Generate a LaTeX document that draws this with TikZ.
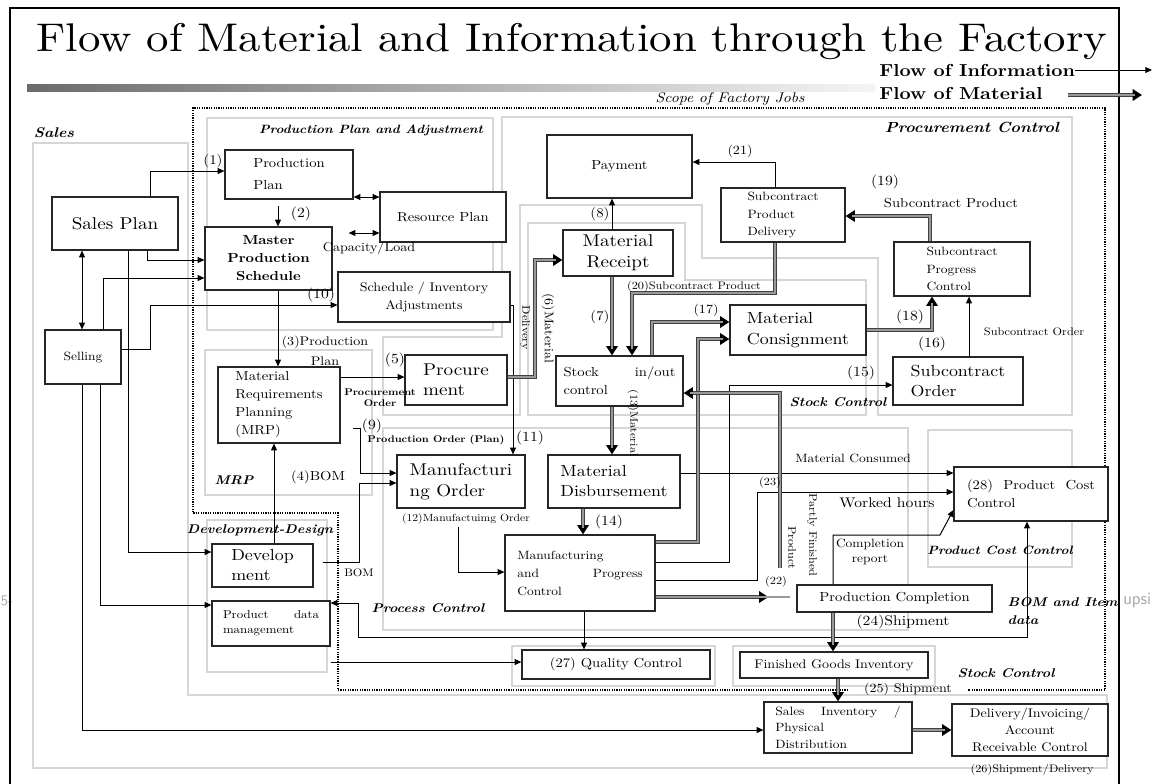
\documentclass[tikz,border=0pt]{standalone}
\usepackage{fontspec}
\setmainfont{lmroman10}[Extension=.otf, UprightFont=*-regular, BoldFont=*-bold,
  ItalicFont=*-italic, BoldItalicFont=*-bolditalic, FakeStretch=1.12]
\usetikzlibrary{arrows.meta}
% box given by its corners (in px units): name, x1, y1, x2, y2, options, text
\newcommand\boxnode[7]{\node[box,#6,minimum width={(#4-#2)*0.75pt},minimum height={(#5-#3)*0.75pt}] (#1) at ({(#2+#4)/2},{(#3+#5)/2}) {#7};}
\tikzset{
  fs/.style 2 args={font=\fontsize{#1}{#2}\selectfont},
  box/.style={draw=black!85, line width=0.9pt, fill=white, inner sep=1pt},
  grp/.style={draw=black!16, line width=0.9pt},
  glab/.style={font=\fontsize{9.5}{11}\selectfont\bfseries\itshape},
  lab/.style={fs={9.4}{11}, inner sep=0.5pt},
  small/.style={fs={8.2}{10}, inner sep=0.5pt},
  info/.style={draw=black, line width=0.75pt, ->},
  both/.style={draw=black, line width=0.75pt, <->},
  mat/.style={draw=black!75, line width=3.2pt, -{Triangle[length=7pt,width=8.5pt,color=black]},
    postaction={draw=black!40, line width=1.2pt, -, shorten >=5pt}},
  scope/.style={draw=black, line width=1.1pt, dash pattern=on 0.9pt off 0.9pt},
}
\begin{document}
\begin{tikzpicture}[x=0.75pt,y=-0.75pt,>={Triangle[length=5pt,width=4.4pt]}]
\useasboundingbox (0,0) rectangle (1157,783);
\clip (0,0) rectangle (1157,783);
\fill[white] (0,0) rectangle (1157,783);

% stray text of the page behind the frame
\node[anchor=west, inner sep=0, text=black!35, font=\sffamily\fontsize{11}{13}\selectfont] (fragl) at (0.5,601) {5-};
\node[anchor=west, inner sep=0, text=black!35, font=\sffamily\fontsize{13}{15}\selectfont] (fragr) at (1123,601) {upsi};

% frame, title and header bar
\draw[line width=2pt] (10,790) -- (10,8) -- (1119,8) -- (1119,790);
\node[anchor=base, font=\fontsize{30}{36}\selectfont, inner sep=0] (title) at (572,51) {Flow of Material and Information through the Factory};
\shade[left color=black!58, right color=black!4] (27,84) rectangle (875,91);

% legend
\node[font=\fontsize{13}{15}\selectfont\bfseries, anchor=west, inner sep=0] (legi) at (879,70) {Flow of Information};
\coordinate (legiend) at (1152,70);
\draw[info] (legi.east) -- (legiend);
\node[font=\fontsize{13}{15}\selectfont\bfseries, anchor=west, inner sep=0] (legm) at (879,93) {Flow of Material};
\coordinate (legmstart) at (1068,95);
\coordinate (legmend) at (1142,95);
\draw[mat] (legmstart) -- (legmend);

% functional areas
\draw[grp] (33,143) -- (188,143) -- (188,695) -- (1107,695) -- (1107,768) -- (33,768) -- cycle;
\draw[grp] (207,118) rectangle (493,330);
\draw[grp] (205,350) rectangle (372,495);
\draw[grp] (502,117) -- (1072,117) -- (1072,415) -- (878,415) -- (878,258) -- (702,258) -- (702,205)
  -- (520,205) -- (520,415) -- (383,415) -- (383,337) -- (502,337) -- cycle;
\draw[grp] (528,223) -- (685,223) -- (685,280) -- (866,280) -- (866,415) -- (528,415) -- cycle;
\draw[grp] (383,428) rectangle (908,630);
\draw[grp] (928,430) rectangle (1072,567);
\draw[grp] (207,520) rectangle (327,672);
\draw[grp] (512,646) rectangle (715,686);
\draw[grp] (733,646) rectangle (935,686);

% scope of factory jobs
\draw[scope] (848,690) -- (338,690) -- (338,513) -- (193,513) -- (193,108) -- (1105,108) -- (1105,690) -- (968,690);
\node[font=\fontsize{10.5}{12}\selectfont\itshape, inner sep=0] (scopelab) at (730,99) {Scope of Factory Jobs};

% area titles
\node[glab, font=\fontsize{10.5}{12}\selectfont\bfseries\itshape] (lsales) at (54,133) {Sales};
\node[glab, font=\fontsize{9}{10}\selectfont\bfseries\itshape] (lppa) at (371,130) {Production Plan and Adjustment};
\node[glab, font=\fontsize{11}{13}\selectfont\bfseries\itshape] (lproc) at (972,127) {Procurement Control};
\node[glab] (lmrp) at (234,480) {MRP};
\node[glab] (lstock) at (838,402) {Stock Control};
\node[glab] (ldev) at (260,530) {Development-Design};
\node[glab] (lprocess) at (428,608) {Process Control};
\node[glab, font=\fontsize{9}{11}\selectfont\bfseries\itshape] (lcost) at (1000,550) {Product Cost Control};
\node[glab, align=left, anchor=west, font=\fontsize{9.5}{13}\selectfont\bfseries\itshape] (lbom) at (1003,611) {BOM and Item\\data};
\node[glab] (lstock2) at (1006,673) {Stock Control};

% activities
\boxnode{pp}{225}{150}{353}{199}{fs={9.8}{16.5},align=left}{Production\\Plan}
\boxnode{sp}{52}{197}{178}{250}{fs={12.8}{15}}{Sales Plan}
\boxnode{mps}{205}{227}{332}{290}{font=\fontsize{9.8}{13.5}\selectfont\bfseries,align=center}{Master\\Production\\Schedule}
\boxnode{rp}{380}{192}{506}{242}{fs={9.8}{12}}{Resource Plan}
\boxnode{sia}{338}{272}{510}{322}{fs={9.4}{13.5},align=center}{Schedule / Inventory\\Adjustments}
\boxnode{sel}{45}{330}{121}{384}{fs={9}{11}}{Selling}
\boxnode{mrp}{218}{367}{340}{443}{fs={9.8}{13.5},align=left}{Material\\Requirements\\Planning\\(MRP)}
\boxnode{proc}{405}{355}{507}{405}{fs={12.8}{15},align=left}{Procure\\ment}
\boxnode{pay}{547}{135}{692}{198}{fs={9.8}{12}}{Payment}
\boxnode{mr}{563}{230}{673}{276}{fs={12.8}{16},align=center}{Material\\Receipt}
\boxnode{spd}{721}{188}{845}{242}{fs={9}{13},align=left}{Subcontract\\Product\\Delivery}
\boxnode{spc}{894}{242}{1030}{296}{fs={9}{13.3},align=left}{Subcontract\\Progress\\Control}
\boxnode{mc}{730}{305}{866}{355}{fs={12}{16},align=left}{Material\\Consignment}
\boxnode{so}{893}{357}{1023}{405}{fs={12}{15.5},align=left}{Subcontract\\Order}
\boxnode{sc}{556}{356}{683}{406}{fs={9.8}{13.5},align=left,text width=84pt}{Stock\hfill in/out\\control}
\boxnode{mo}{397}{455}{525}{508}{fs={12.8}{15.5},align=left}{Manufacturi\\ng Order}
\boxnode{md}{548}{455}{680}{508}{fs={12}{15},align=left}{Material\\Disbursement}
\boxnode{mpc}{505}{535}{655}{611}{fs={9}{13.5},align=left,text width=94pt}{Manufacturing\\and\hfill Progress\\Control}
\boxnode{pcc}{954}{467}{1108}{521}{fs={9.8}{13.5},align=left,text width=96pt}{(28)\hfill Product\hfill Cost\\Control}
\boxnode{pc}{797}{585}{992}{612}{fs={9.8}{12}}{Production Completion}
\boxnode{dev}{212}{544}{313}{587}{fs={12}{15},align=left}{Develop\\ment}
\boxnode{pdm}{212}{601}{330}{646}{fs={8.6}{11.5},align=left,text width=72pt}{Product\hfill data\\management}
\boxnode{qc}{522}{650}{710}{679}{fs={9.8}{12}}{(27) Quality Control}
\boxnode{fgi}{740}{652}{928}{678}{fs={9.4}{12}}{Finished Goods Inventory}
\boxnode{si}{764}{702}{912}{753}{fs={9}{12.4},align=left,text width=94pt}{Sales\hfill Inventory\hfill /\\Physical\\Distribution}
\boxnode{dl}{952}{704}{1108}{756}{fs={9.4}{12.6},align=center}{Delivery/Invoicing/\\Account\\Receivable Control}

\coordinate (pfp) at (780,568);

% flow of information
\draw[info] (150,0 |- sp.north) |- (pp.west |- 0,171);
\draw[info, shorten <=5pt] (278,0 |- pp.south) -- (278,0 |- mps.north);
\draw[both] (pp.east |- 0,197) -- (rp.west |- 0,197);
\draw[both, shorten <=12pt] (mps.east |- 0,233) -- (rp.west |- 0,233);
\draw[info] (147,0 |- sp.south) |- (mps.west |- 0,260);
\draw[info] (103,0 |- sel.north) |- (mps.west |- 0,278);
\draw[both] (82,0 |- sp.south) -- (82,0 |- sel.north);
\draw[info] (128,0 |- sp.south) |- (dev.west |- 0,552);
\draw[info] (sel.east |- 0,349) -| (150,305) -- (sia.west |- 0,305);
\draw[info] (82,0 |- sel.south) |- (si.west |- 0,730);
\draw[info] (100,0 |- sel.south) |- (pdm.west |- 0,605);
\draw[info] (278,0 |- mps.south) -- (278,0 |- mrp.north);
\draw[info] (mrp.east |- 0,377) -- (proc.west |- 0,377);
\draw[info, shorten <=9pt] (mrp.east |- 0,428) -| (360,473) -- (mo.west |- 0,473);
\draw[info, shorten <=7pt] (dev.east |- 0,562) -| (359,483) -- (mo.west |- 0,483);
\draw[info] (274,0 |- dev.north) -- (274,0 |- mrp.south);
\draw[info] (sia.east |- 0,305) -| (513,0 |- mo.north);
\draw[info, shorten <=14pt] (458,0 |- mo.south) |- (mpc.west |- 0,572);
\draw[info] (612,0 |- mr.north) -- (612,0 |- pay.south);
\draw[info] (775,0 |- spd.north) |- (pay.east |- 0,162);
\draw[info] (969,0 |- so.north) -- (969,0 |- spc.south);
\draw[info] (mpc.east |- 0,562) -| (729,385) -- (so.west |- 0,385);
\draw[info] (md.east |- 0,473) -- (pcc.west |- 0,473);
\draw[info] (mpc.east |- 0,580) -| (757,492) -- (pcc.west |- 0,492);
\draw[info] (584,0 |- mpc.south) -- (584,0 |- qc.north);
\draw[info] (833,0 |- pc.north) |- (940,535) -- (pcc.west |- 0,510);
\draw[both] (pdm.east |- 0,603) -| (358,637) -| (1027,0 |- pcc.south);
\draw[info] (pdm.east |- 0,662) -- (qc.west |- 0,662);

% flow of material
\draw[mat] (proc.east |- 0,377) -| (535,260) -- (mr.west |- 0,260);
\draw[mat] (612,0 |- mr.south) -- (612,0 |- sc.north);
\draw[mat] (775,0 |- spd.south) |- (632,293) -- (632,0 |- sc.north);
\draw[mat] (652,0 |- sc.north) |- (mc.west |- 0,322);
\draw[mat] (mpc.east |- 0,542) -| (698,339) -- (mc.west |- 0,339);
\draw[mat] (mc.east |- 0,330) -| (932,0 |- spc.south);
\draw[mat] (930,0 |- spc.north) |- (spd.east |- 0,216);
\draw[mat] (612,0 |- sc.south) -- (612,0 |- md.north);
\draw[mat] (583,0 |- md.south) -- (583,0 |- mpc.north);
\draw[mat, shorten >=21pt] (mpc.east |- 0,597) -- (pc.west |- 0,597);
\draw[mat] (pfp) |- (sc.east |- 0,393);
\draw[mat] (833,0 |- pc.south) -- (833,0 |- fgi.north);
\draw[mat] (838,0 |- fgi.south) -- (838,0 |- si.north);
\draw[mat] (si.east |- 0,730) -- (dl.west |- 0,730);

% connector labels
\node[lab, fs={10}{12}] (l1) at (213,161) {(1)};
\node[lab, fs={10.5}{12}] (l2) at (301,214) {(2)};
\node[lab] (lcap) at (369,248) {Capacity/Load};
\node[lab, fs={10.5}{12}] (l10) at (321,295) {(10)};
\node[lab] (l3) at (325,342) {(3)Production};
\node[lab] (l3b) at (325,361) {Plan};
\node[lab, fs={10.5}{12}] (l5) at (395,360) {(5)};
\node[small, font=\fontsize{7.3}{8}\selectfont\bfseries, align=center] (lpo) at (380,398) {Procurement\\Order};
\node[lab, fs={10.5}{12}] (l9) at (372,426) {(9)};
\node[small, font=\fontsize{7.3}{8}\selectfont\bfseries] (lpop) at (436,440) {Production Order (Plan)};
\node[lab, fs={9.8}{12}] (l4) at (318,477) {(4)BOM};
\node[small] (lbom2) at (359,573) {BOM};
\node[lab, fs={10.5}{12}] (l11) at (530,438) {(11)};
\node[small, fs={7.8}{9}] (l12) at (466,519) {(12)Manufactuimg Order};
\node[lab, fs={10}{12}] (l8) at (600,214) {(8)};
\node[lab] (l21) at (740,151) {(21)};
\node[lab, fs={10.5}{12}] (l19) at (885,182) {(19)};
\node[lab, fs={9.8}{12}] (l19b) at (951,203) {Subcontract Product};
\node[small] (l20) at (694,287) {(20)Subcontract Product};
\node[lab, fs={10}{12}] (l7) at (600,317) {(7)};
\node[lab] (l17) at (706,310) {(17)};
\node[lab, fs={10.5}{12}] (l18) at (910,317) {(18)};
\node[lab, fs={10.5}{12}] (l16) at (932,344) {(16)};
\node[small] (lso) at (1034,332) {Subcontract Order};
\node[lab, fs={10.5}{12}] (l15) at (861,373) {(15)};
\node[lab, fs={10.5}{12}] (l14) at (609,522) {(14)};
\node[small, rotate=-90] (l13) at (633,423) {(13)Material};
\node[small, rotate=-90] (ldel) at (525,328) {Delivery};
\node[small, rotate=-90, fs={9.4}{11}] (l6) at (548,328) {(6)Material};
\node[lab, fs={9}{11}] (lmc) at (853,458) {Material Consumed};
\node[small] (l23) at (770,483) {(23)};
\node[lab, fs={10.5}{12}] (lwh) at (887,503) {Worked hours};
\node[small, rotate=-90] (lprod) at (792,548) {Product};
\node[small, rotate=-90] (lpf) at (812,535) {Partly Finished};
\node[lab, fs={9}{11.5}, align=center] (lcr) at (870,552) {Completion\\report};
\node[small] (l22) at (776,582) {(22)};
\node[lab, fs={10.5}{12}] (l24) at (903,622) {(24)Shipment};
\node[lab] (l25) at (908,689) {(25) Shipment};
\node[small] (l26) at (1032,770) {(26)Shipment/Delivery};
\end{tikzpicture}
\end{document}
